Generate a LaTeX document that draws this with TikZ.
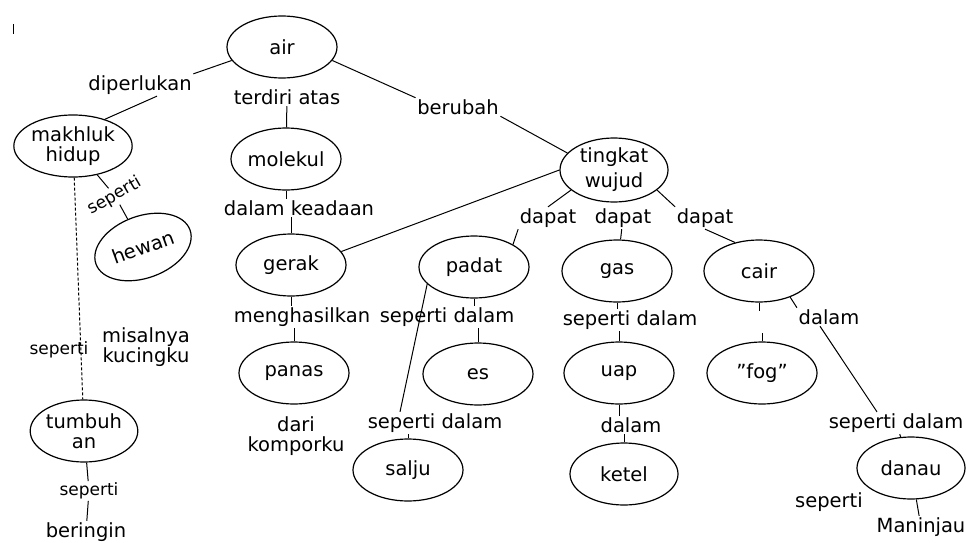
\documentclass[tikz,border=0pt]{standalone}
\usepackage{fontspec}
\setmainfont{DejaVu Sans}
\usetikzlibrary{shapes.geometric}
\tikzstyle{Concept}=[shape=ellipse, draw=black, line width=1.2pt, fill=white, minimum width=110pt, minimum height=62pt, inner sep=0pt, text=black, align=center, font=\fontsize{19.5}{20}\selectfont]
\tikzstyle{Link}=[inner sep=1.5pt, text=black, align=center, font=\fontsize{19.5}{20}\selectfont]
\tikzstyle{SmallLink}=[Link, font=\fontsize{17}{18}\selectfont]
\tikzstyle{connector}=[line width=1pt, draw=black]
\pgfdeclarelayer{nodelayer}
\pgfdeclarelayer{edgelayer}
\pgfsetlayers{edgelayer, nodelayer, main}
\begin{document}
\begin{tikzpicture}[x=1pt, y=-1pt]
	\useasboundingbox (0,0) rectangle (966,543);
	\begin{pgfonlayer}{nodelayer}
		% concepts
		\node [style=Concept] (air) at (282,47) {air};
		\node [style=Concept, minimum width=93pt] (makhluk) at (73,146) {makhluk\\hidup};
		\node [style=Concept] (molekul) at (286,159) {molekul};
		\node [style=Concept, minimum width=100pt, rotate=20] (hewan) at (143,247) {hewan};
		\node [style=Concept] (gerak) at (291,265) {gerak};
		\node [style=Concept, minimum width=108pt, minimum height=64pt, font=\fontsize{19.5}{25}\selectfont] (tingkat) at (614,170) {tingkat\\wujud};
		\node [style=Concept] (padat) at (474,267) {padat};
		\node [style=Concept] (gas) at (617,271) {gas};
		\node [style=Concept] (cair) at (759,271) {cair};
		\node [style=Concept] (panas) at (294,373) {panas};
		\node [style=Concept] (es) at (478,374) {es};
		\node [style=Concept] (uap) at (619,373) {uap};
		\node [style=Concept] (fog) at (762,373) {''fog''};
		\node [style=Concept, minimum width=98pt] (tumbuhan) at (84,431) {tumbuh\\an};
		\node [style=Concept] (salju) at (408,470) {salju};
		\node [style=Concept, minimum width=108pt] (ketel) at (624,474) {ketel};
		\node [style=Concept, minimum width=108pt] (danau) at (911,468) {danau};

		% link words
		\node [style=Link] (diperlukan) at (140,85) {diperlukan};
		\node [style=Link] (terdiri) at (287,97) {terdiri atas};
		\node [style=Link] (berubah) at (458,107) {berubah};
		\node [style=SmallLink, rotate=30] (sepHewan) at (115,196) {seperti};
		\node [style=Link] (keadaan) at (299,208) {dalam keadaan};
		\node [style=Link] (dapatA) at (548,218) {dapat};
		\node [style=Link] (dapatB) at (623,218) {dapat};
		\node [style=Link] (dapatC) at (705,218) {dapat};
		\node [style=Link] (menghasilkan) at (302,317) {menghasilkan};
		\node [style=Link] (sepEs) at (447,317) {seperti dalam};
		\node [style=Link] (sepUap) at (630,320) {seperti dalam};
		\node [style=Link] (dalamCair) at (829,317) {dalam};
		\node [style=SmallLink] (sepTumbuhan) at (59,350) {seperti};
		\node [style=Link] (kucing) at (146,347) {misalnya\\kucingku};
		\node [style=Link] (kompor) at (296,436) {dari\\komporku};
		\node [style=Link] (sepSalju) at (435,423) {seperti dalam};
		\node [style=Link] (dalamUap) at (631,425) {dalam};
		\node [style=Link] (sepDanau) at (896,423) {seperti dalam};
		\node [style=SmallLink] (sepBeringin) at (89,491) {seperti};
		\node [style=Link] (beringin) at (86,532) {beringin};
		\node [style=Link] (sepManinjau) at (829,502) {seperti};
		\node [style=Link] (maninjau) at (921,527) {Maninjau};
	\end{pgfonlayer}
	\begin{pgfonlayer}{edgelayer}
		\draw [style=connector] (13,24) to (13,34);
		\draw [style=connector] (air.195) to (diperlukan.north east);
		\draw [style=connector] ([xshift=17pt]diperlukan.south) to (makhluk.40);
		\draw [style=connector] (terdiri) to (molekul);
		\draw [style=connector] (air.-15) to (berubah.north west);
		\draw [style=connector] (berubah.south east) to (tingkat.160);
		\draw [style=connector] (makhluk) to (sepHewan);
		\draw [style=connector] (sepHewan) to (hewan);
		\draw [style=connector, dash pattern=on 3pt off 2pt] (makhluk) to (tumbuhan);
		\draw [style=connector] (tumbuhan) to (sepBeringin);
		\draw [style=connector] (sepBeringin) to (beringin);

		% middle branch
		\draw [style=connector] (molekul) to (molekul |- keadaan.north);
		\draw [style=connector] (gerak |- keadaan.south) to (gerak);
		\draw [style=connector] (gerak.15) to (tingkat.west);
		\draw [style=connector] (gerak) to (gerak |- menghasilkan.north);
		\draw [style=connector] (panas |- menghasilkan.south) to (panas);

		% tingkat wujud
		\draw [style=connector] (tingkat.205) to (dapatA.north);
		\draw [style=connector] (dapatA.south west) to (padat.30);
		\draw [style=connector] (dapatB) to (gas);
		\draw [style=connector] (tingkat.-25) to (dapatC.north west);
		\draw [style=connector] (dapatC.south) to (cair.130);
		\draw [style=connector] (padat) to (padat |- sepEs.north);
		\draw [style=connector] (es |- sepEs.south) to (es);
		\draw [style=connector] (padat.200) to ([xshift=-35pt]sepSalju.north);
		\draw [style=connector] (salju |- sepSalju.south) to (salju);
		\draw [style=connector] (gas) to (gas |- sepUap.north);
		\draw [style=connector] (uap |- sepUap.south) to (uap);
		\draw [style=connector] (uap) to (uap |- dalamUap.north);
		\draw [style=connector] (ketel |- dalamUap.south) to (ketel);
		\draw [style=connector] (cair) to ([yshift=-8pt]cair.south);
		\draw [style=connector] ([yshift=8pt]fog.north) to (fog);
		\draw [style=connector] (cair.-40) to (dalamCair.north west);
		\draw [style=connector] ([xshift=-9pt]dalamCair.south) to ([xshift=-19pt]sepDanau.north);
		\draw [style=connector] (sepDanau) to (danau);
		\draw [style=connector] (danau) to (maninjau);
	\end{pgfonlayer}
\end{tikzpicture}
\end{document}
